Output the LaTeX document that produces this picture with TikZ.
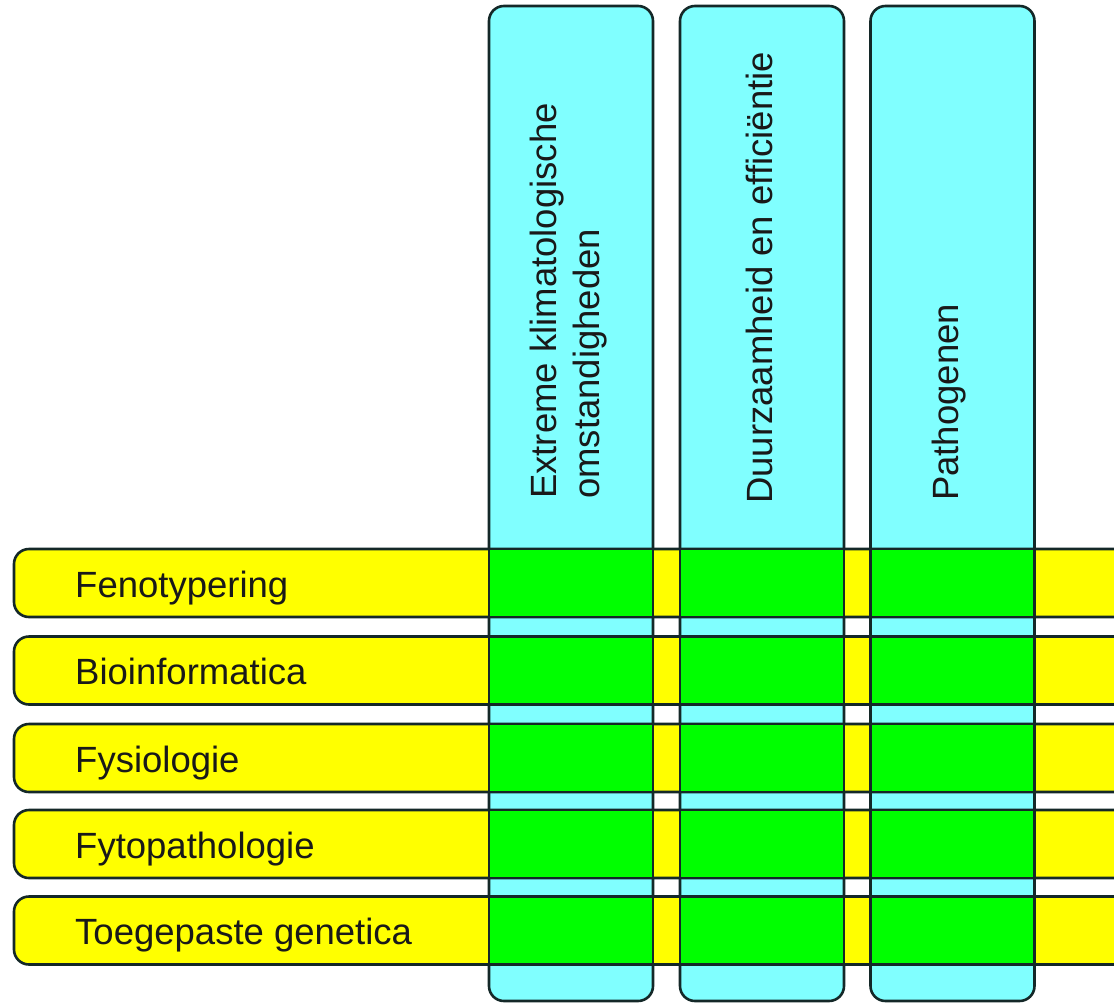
\documentclass[tikz,border=0pt]{standalone}
\usepackage{fontspec}
\setmainfont{Liberation Sans}
\definecolor{colcyan}{RGB}{128,255,255}
\definecolor{rowyellow}{RGB}{255,255,0}
\definecolor{cellgreen}{RGB}{0,255,0}
\definecolor{edge}{RGB}{20,40,40}
\definecolor{txt}{RGB}{25,25,25}
\tikzset{
  colbox/.style={draw=edge, line width=2.6pt, fill=colcyan, rounded corners=15pt,
    minimum width=164pt, minimum height=995pt, inner sep=0pt, outer sep=0pt},
  rowbox/.style={draw=edge, line width=2.6pt, fill=rowyellow, rounded corners=15pt,
    minimum width=1126pt, minimum height=68pt, inner sep=0pt, outer sep=0pt},
  cellbox/.style={draw=edge, line width=2.6pt, fill=cellgreen},
  rowlabel/.style={anchor=base west, inner sep=0pt, text=txt,
    font=\fontsize{36.5}{42}\selectfont},
  collabel/.style={rotate=90, anchor=west, inner sep=0pt, text=txt, align=left,
    font=\fontsize{36.5}{43}\selectfont}
}
\begin{document}
\begin{tikzpicture}[x=1pt,y=-1pt]
\useasboundingbox (0,0) rectangle (1114,1004);
\clip (0,0) rectangle (1114,1004);
\fill[white] (0,0) rectangle (1114,1004);
% columns
\node[colbox] (c1) at (571,503.5) {};
\node[colbox] (c2) at (762,503.5) {};
\node[colbox] (c3) at (952.5,503.5) {};
% rows
\node[rowbox] (r1) at (577,583) {};
\node[rowbox] (r2) at (577,670.5) {};
\node[rowbox] (r3) at (577,758) {};
\node[rowbox] (r4) at (577,844) {};
\node[rowbox] (r5) at (577,930.5) {};
% intersections
\foreach \i in {1,...,5}{
  \foreach \j in {1,2,3}{
    \draw[cellbox] (c\j.west |- r\i.north) rectangle (c\j.east |- r\i.south);
  }
}
% row labels
\node[rowlabel] (l1) at (75,597) {Fenotypering};
\node[rowlabel] (l2) at (75,684.5) {Bioinformatica};
\node[rowlabel] (l3) at (75,772) {Fysiologie};
\node[rowlabel] (l4) at (75,858) {Fytopathologie};
\node[rowlabel] (l5) at (75,944.5) {Toegepaste genetica};
% column labels
\node[collabel] (t1) at (569,499) {Extreme klimatologische\\omstandigheden};
\node[collabel] (t2) at (759,504) {Duurzaamheid en efficiëntie};
\node[collabel] (t3) at (949,501) {Pathogenen};
\end{tikzpicture}
\end{document}
